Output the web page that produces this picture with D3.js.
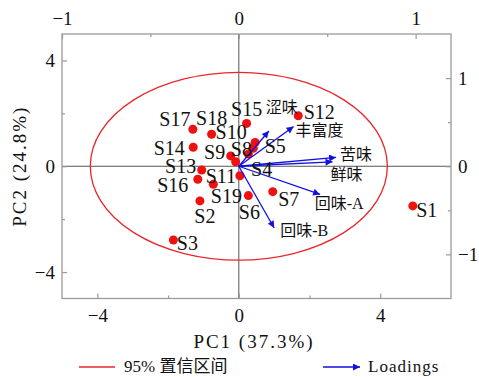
<!DOCTYPE html>
<html><head><meta charset="utf-8">
<script src="https://cdn.jsdelivr.net/npm/d3@7"></script>
<style>body{margin:0;background:#fff}svg{display:block}</style>
</head><body>
<svg id="c" width="479" height="377"></svg>
<script>
// ---- data ----
const samples = ["S1","S2","S3","S4","S5","S6","S7","S8","S9","S10","S11","S12","S13","S14","S15","S16","S17","S18","S19"];
const pc1 = [4.92,-1.10,-1.85,-0.09,0.41,0.27,0.96,0.27,-0.23,0.46,0.03,1.68,-1.05,-1.29,0.22,-1.16,-1.30,-0.77,-0.72];
const pc2 = [-1.50,-1.31,-2.79,0.17,0.68,-1.11,-0.96,0.46,0.39,0.90,-0.36,1.91,-0.14,0.72,1.62,-0.49,1.40,1.21,-0.68];
// label offsets (px) of label centre from point
const labelDx = [14,5,14,26,22,1,16,-7,-16,-24,-19,21,-21,-24,0,-25,-18,0,13];
const labelDy = [4,15,3,7,-2,16,7,-5,-4,-10,0,-4,-4,1,-14,6,-10,-16,12];

const variables = ["涩味","丰富度","苦味","鲜味","回味-A","回味-B"];
const load1 = [0.17,0.31,0.55,0.53,0.46,0.20];
const load2 = [0.40,0.45,0.10,0.05,-0.32,-0.70];
const varLabelDx = [13,26,20,14,19,30];
const varLabelDy = [-24,4,-3,13,9,2];

const ellipseRx = 4.2, ellipseRy = 3.55;
const xTicks = [-4,0,4], yTicks = [-4,0,4];
const topTicks = [-1,0,1], rightTicks = [-1,0,1];
const xMinor = [-2,2], yMinor = [-2,2], topMinor = [-0.5,0.5], rightMinor = [-0.5,0.5];

// ---- layout ----
const svg = d3.select("#c");
const L = 62, R = 451, T = 34, B = 298.5;
const x = d3.scaleLinear().domain([-5,6]).range([L,R]);
const y = d3.scaleLinear().domain([-5,5]).range([B,T]);
const xt = d3.scaleLinear().domain([-1,1.2]).range([L,R]);
const yr = d3.scaleLinear().domain([-1.5,1.5]).range([B,T]);
const serif = "'Liberation Serif','Times New Roman',serif";
const cjk = "'Liberation Serif','Noto Sans CJK SC',serif";
const axisCol = "#9a9a9a";

// zero lines
svg.append("line").attr("x1",L).attr("x2",R).attr("y1",y(0)).attr("y2",y(0)).attr("stroke","#555").attr("stroke-width",1);
svg.append("line").attr("x1",x(0)).attr("x2",x(0)).attr("y1",T).attr("y2",B).attr("stroke","#555").attr("stroke-width",1);

// frame
svg.append("rect").attr("x",L).attr("y",T).attr("width",R-L).attr("height",B-T)
  .attr("fill","none").attr("stroke",axisCol).attr("stroke-width",1.3);

function styleAxis(g){
  g.select(".domain").remove();
  g.selectAll(".tick line").attr("stroke",axisCol).attr("stroke-width",1.2);
  g.selectAll("text").attr("font-family",serif).attr("font-size",19).attr("fill","#111");
}
const fmt = d => d<0 ? "\u2212"+Math.abs(d) : String(d);
const tl = 5;
svg.append("g").attr("transform",`translate(0,${B})`)
  .call(d3.axisBottom(x).tickValues(xTicks).tickSize(-tl).tickPadding(10).tickFormat(fmt)).call(styleAxis)
  .selectAll("text").attr("dy","0.71em");
svg.append("g").attr("transform",`translate(0,${B})`)
  .call(d3.axisBottom(x).tickValues(xMinor).tickSize(-3).tickFormat("")).call(styleAxis);
svg.append("g").attr("transform",`translate(0,${T})`)
  .call(d3.axisTop(xt).tickValues(topTicks).tickSize(-tl).tickPadding(9).tickFormat(fmt)).call(styleAxis);
svg.append("g").attr("transform",`translate(0,${T})`)
  .call(d3.axisTop(xt).tickValues(topMinor).tickSize(-3).tickFormat("")).call(styleAxis);
svg.append("g").attr("transform",`translate(${L},0)`)
  .call(d3.axisLeft(y).tickValues(yTicks).tickSize(-tl).tickPadding(7).tickFormat(fmt)).call(styleAxis);
svg.append("g").attr("transform",`translate(${L},0)`)
  .call(d3.axisLeft(y).tickValues(yMinor).tickSize(-3).tickFormat("")).call(styleAxis);
svg.append("g").attr("transform",`translate(${R},0)`)
  .call(d3.axisRight(yr).tickValues(rightTicks).tickSize(-tl).tickPadding(7).tickFormat(fmt)).call(styleAxis);
svg.append("g").attr("transform",`translate(${R},0)`)
  .call(d3.axisRight(yr).tickValues(rightMinor).tickSize(-3).tickFormat("")).call(styleAxis);

// axis titles
svg.append("text").attr("x",254).attr("y",348).attr("text-anchor","middle")
  .attr("font-family",cjk).attr("font-size",19).attr("letter-spacing",2).attr("fill","#111").text("PC1 (37.3%)");
svg.append("text").attr("transform",`translate(26,${y(0)}) rotate(-90)`).attr("text-anchor","middle")
  .attr("font-family",cjk).attr("font-size",19).attr("letter-spacing",2).attr("fill","#111").text("PC2 (24.8%)");

// ellipse
svg.append("ellipse").attr("cx",x(0)).attr("cy",y(0))
  .attr("rx",x(ellipseRx)-x(0)).attr("ry",y(0)-y(ellipseRy))
  .attr("fill","none").attr("stroke","#e8262a").attr("stroke-width",1.3);

// arrows
const defs = svg.append("defs");
defs.append("marker").attr("id","ah").attr("viewBox","0 0 10 10").attr("refX",10).attr("refY",5)
  .attr("markerWidth",9).attr("markerHeight",7).attr("markerUnits","userSpaceOnUse").attr("orient","auto")
  .append("path").attr("d","M0,0L10,5L0,10z").attr("fill","#1010e0");

// points
const pts = samples.map((s,i)=>({s,x:pc1[i],y:pc2[i],dx:labelDx[i],dy:labelDy[i]}));
svg.append("g").selectAll("circle").data(pts).join("circle")
  .attr("cx",d=>x(d.x)).attr("cy",d=>y(d.y)).attr("r",4.5).attr("fill","#f01010");

const loads = variables.map((v,i)=>({v,a:load1[i],b:load2[i],dx:varLabelDx[i],dy:varLabelDy[i]}));
svg.append("g").selectAll("line").data(loads).join("line")
  .attr("x1",xt(0)).attr("y1",yr(0)).attr("x2",d=>xt(d.a)).attr("y2",d=>yr(d.b))
  .attr("stroke","#1010e0").attr("stroke-width",1.3).attr("marker-end","url(#ah)");

svg.append("g").selectAll("text").data(pts).join("text")
  .attr("x",d=>x(d.x)+d.dx).attr("y",d=>y(d.y)+d.dy).attr("dy","0.35em").attr("text-anchor","middle")
  .attr("font-family",serif).attr("font-size",20).attr("fill","#111").text(d=>d.s);

svg.append("g").selectAll("text").data(loads).join("text")
  .attr("x",d=>xt(d.a)+d.dx).attr("y",d=>yr(d.b)+d.dy).attr("dy","0.35em").attr("text-anchor","middle")
  .attr("font-family","'Liberation Serif','Noto Sans CJK SC',sans-serif").attr("font-size",16).attr("fill","#111").text(d=>d.v);

// legend
svg.append("line").attr("x1",79).attr("x2",115).attr("y1",367).attr("y2",367).attr("stroke","#e8262a").attr("stroke-width",1.3);
svg.append("text").attr("x",124).attr("y",372).attr("font-family",cjk).attr("font-size",17).attr("fill","#111").text("95% 置信区间");
svg.append("line").attr("x1",323).attr("x2",360).attr("y1",367).attr("y2",367).attr("stroke","#1010e0").attr("stroke-width",1.3).attr("marker-end","url(#ah)");
svg.append("text").attr("x",368).attr("y",372).attr("font-family",serif).attr("font-size",17).attr("letter-spacing",1).attr("fill","#111").text("Loadings");
</script>
</body></html>
